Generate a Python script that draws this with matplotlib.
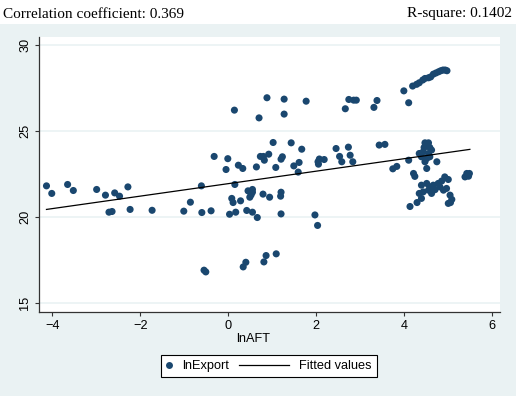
import matplotlib
matplotlib.use("Agg")
import matplotlib.pyplot as plt
from matplotlib import font_manager
from matplotlib.lines import Line2D
from matplotlib.patches import Rectangle
from matplotlib.legend_handler import HandlerBase

# ---------------- data ----------------
ln_aft = [
    -4.13, -4.01, -3.65, -3.52, -2.99, -2.79, -2.58, -2.47, -2.28, -2.71,
    -2.64, -2.23, -1.73, -1.01, -0.86, -0.61, -0.60, -0.39, -0.55, -0.51,
    -0.32, -0.05, -0.01, 0.03, 0.08, 0.11, 0.15, 0.17, 0.23, 0.28,
    0.33, 0.42, 0.45, 0.49, 0.55, 0.55, 0.52, 0.55, 0.66, 0.34,
    0.40, 0.14,
    0.70, 0.88, 1.27, 1.27, 1.77, 1.02, 0.73, 0.80, 0.82, 0.92,
    0.64, 1.08, 1.20, 1.23, 1.43, 1.67, 1.49, 1.61, 1.59, 0.79,
    0.94, 1.19, 1.20, 1.20, 1.97, 2.03, 0.81, 0.86, 1.09, 2.04,
    2.07, 2.18, 2.05,
    2.45, 2.53, 2.58, 2.73, 2.77, 2.83, 2.66, 2.74, 2.85, 2.91,
    3.31, 3.38, 3.43, 3.56, 3.74, 3.83,
    3.99, 4.10, 4.19, 4.28, 4.34, 4.42, 4.47, 4.55, 4.60, 4.66,
    4.72, 4.78, 4.83, 4.88, 4.93, 4.97,
    4.10, 4.34, 4.21, 4.24, 4.47, 4.55, 4.51, 4.58, 4.43, 4.55,
    4.39, 4.51, 4.58, 4.47, 4.51, 4.74, 4.62, 4.45,
    4.39, 4.51, 4.58, 4.66, 4.55, 4.43, 4.62, 4.77, 4.81, 4.89,
    4.92, 5.00, 4.96, 5.04, 5.08, 5.00, 5.05, 4.34, 4.39, 4.29,
    4.13, 4.70, 4.85,
    5.42, 5.46, 5.38, 5.48,
]
ln_export = [
    21.82, 21.38, 21.90, 21.55, 21.61, 21.28, 21.41, 21.22, 21.76, 20.29,
    20.33, 20.45, 20.40, 20.35, 20.87, 21.82, 20.27, 20.37, 16.92, 16.82,
    23.53, 22.77, 23.40, 20.17, 21.09, 20.85, 21.90, 20.29, 23.02, 20.95,
    22.83, 20.39, 21.53, 21.16, 21.61, 21.45, 21.30, 20.29, 19.98, 17.11,
    17.38, 26.22,
    25.77, 26.94, 26.86, 25.99, 26.74, 24.34, 23.53, 23.53, 23.31, 23.66,
    22.92, 22.89, 23.37, 23.51, 24.32, 23.95, 22.98, 23.18, 22.62, 21.34,
    21.16, 21.22, 21.45, 20.19, 20.13, 19.52, 17.40, 17.77, 17.87, 23.22,
    23.38, 23.35, 23.08,
    23.99, 23.53, 23.22, 24.07, 23.60, 23.22, 26.30, 26.84, 26.80, 26.80,
    26.38, 26.78, 24.19, 24.23, 22.81, 22.95,
    27.34, 26.65, 27.62, 27.72, 27.81, 27.97, 28.06, 28.10, 28.15, 28.31,
    28.38, 28.45, 28.51, 28.55, 28.55, 28.51,
    23.31, 23.70, 22.54, 22.37, 24.32, 24.32, 24.13, 24.05, 23.80, 23.70,
    23.51, 23.41, 23.51, 23.22, 22.83, 23.22, 23.90, 24.05,
    21.86, 21.96, 21.76, 21.86, 21.57, 21.47, 21.38, 21.96, 21.76, 21.57,
    22.34, 22.19, 21.67, 21.28, 21.03, 20.80, 20.85, 21.38, 21.09, 20.85,
    20.62, 21.60, 22.10,
    22.54, 22.38, 22.34, 22.54,
]
fit_x = [-4.13, 5.49]
fit_y = [20.45, 23.94]

x_ticks = [-4, -2, 0, 2, 4, 6]
y_ticks = [15, 20, 25, 30]
x_label = "lnAFT"
series_names = ["lnExport", "Fitted values"]
title_left = "Correlation coefficient: 0.369"
title_right = "R-square: 0.1402"

# ---------------- style ----------------
navy = "#1a476f"
bg = "#eaf2f3"
names = {f.name for f in font_manager.fontManager.ttflist}
if "Liberation Sans Narrow" in names:
    sans, fs = "Liberation Sans Narrow", 11.2
else:
    sans, fs = "Liberation Sans", 9.2
serif = "Liberation Serif"

W, H = 516, 396
fig = plt.figure(figsize=(W / 100, H / 100), dpi=100, facecolor=bg)
fig.add_artist(Rectangle((0, 1 - 24 / H), 1, 24 / H, transform=fig.transFigure,
                         facecolor="white", edgecolor="none", zorder=0))

ax = fig.add_axes([39 / W, 1 - 312 / H, (500 - 39) / W, (312 - 37) / H])
ax.set_facecolor("white")
ax.set_xlim(-4.30, 6.175)
ax.set_ylim(14.49, 30.47)

for s in ["top", "right"]:
    ax.spines[s].set_visible(False)
for s in ["left", "bottom"]:
    ax.spines[s].set_color("#333333")
    ax.spines[s].set_linewidth(0.9)

ax.set_xticks(x_ticks)
ax.set_yticks(y_ticks)
ax.tick_params(axis="both", direction="out", length=3, width=0.8, color="#333333",
               labelsize=fs, labelcolor="black")
ax.tick_params(axis="x", pad=3)
ax.tick_params(axis="y", pad=2.5)
for lab in ax.get_yticklabels():
    lab.set_rotation(90)
    lab.set_va("center")
for lab in ax.get_xticklabels() + ax.get_yticklabels():
    lab.set_fontfamily(sans)

ax.grid(axis="y", color=bg, linewidth=1.2, zorder=0)
ax.set_axisbelow(True)

ax.scatter(ln_aft, ln_export, s=26, color=navy, edgecolors="none", zorder=3,
           label=series_names[0])
ax.plot(fit_x, fit_y, color="black", linewidth=0.9, zorder=4, label=series_names[1])

ax.set_xlabel(x_label, fontfamily=sans, fontsize=fs)
ax.xaxis.set_label_coords((253 - 39) / (500 - 39), -(333 - 312) / (312 - 37))

fig.text(3 / W, 1 - 14 / H, title_left, ha="left", va="center",
         fontfamily=serif, fontsize=11)
fig.text(512 / W, 1 - 14 / H, title_right, ha="right", va="center",
         fontfamily=serif, fontsize=11)


class LineLeftExt(HandlerBase):
    def __init__(self, length_pt, **kw):
        super().__init__(**kw)
        self.length_pt = length_pt

    def create_artists(self, legend, orig_handle, xdescent, ydescent, width,
                       height, fontsize, trans):
        y = height / 2 - ydescent
        x1 = width - xdescent
        ln = Line2D([x1 - self.length_pt, x1], [y, y], color="black",
                    linewidth=0.9)
        ln.set_transform(trans)
        return [ln]


h_marker = Line2D([], [], marker="o", linestyle="none", color=navy,
                  markersize=5, markeredgewidth=0)
h_line = Line2D([], [], color="black", linewidth=0.9)
leg = fig.legend([h_marker, h_line], series_names, loc="center",
                 bbox_to_anchor=(269 / W, 1 - 366 / H), ncol=2,
                 prop={"family": sans, "size": fs},
                 handlelength=0.4, handletextpad=0.8, columnspacing=4.3,
                 borderpad=0.4, frameon=True, fancybox=False,
                 handler_map={h_line: LineLeftExt(36)})
leg.get_frame().set_edgecolor("black")
leg.get_frame().set_linewidth(0.8)
leg.get_frame().set_facecolor("white")
leg.get_frame().set_alpha(1)

fig.savefig("out.png", dpi=100, facecolor=bg)
